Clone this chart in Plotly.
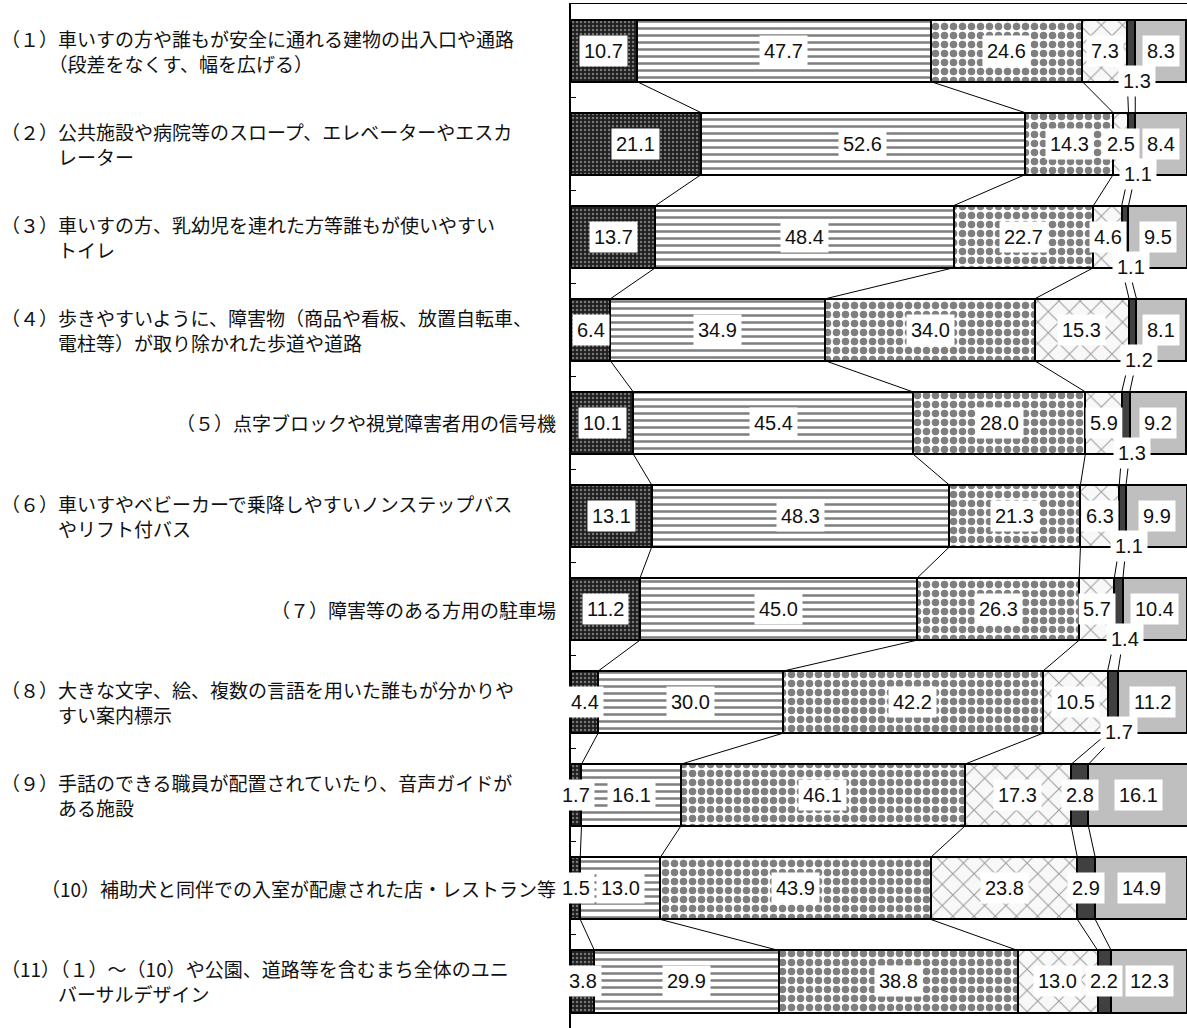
import plotly.graph_objects as go

# category labels (first line, continuation line)
categories = [
    ["（１）車いすの方や誰もが安全に通れる建物の出入口や通路", "（段差をなくす、幅を広げる）"],
    ["（２）公共施設や病院等のスロープ、エレベーターやエスカ", "レーター"],
    ["（３）車いすの方、乳幼児を連れた方等誰もが使いやすい", "トイレ"],
    ["（４）歩きやすいように、障害物（商品や看板、放置自転車、", "電柱等）が取り除かれた歩道や道路"],
    ["（５）点字ブロックや視覚障害者用の信号機"],
    ["（６）車いすやベビーカーで乗降しやすいノンステップバス", "やリフト付バス"],
    ["（７）障害等のある方用の駐車場"],
    ["（８）大きな文字、絵、複数の言語を用いた誰もが分かりや", "すい案内標示"],
    ["（９）手話のできる職員が配置されていたり、音声ガイドが", "ある施設"],
    ["（10）補助犬と同伴での入室が配慮された店・レストラン等"],
    ["（11）（１）～（10）や公園、道路等を含むまち全体のユニ", "バーサルデザイン"],
]

series_names = ["series_1", "series_2", "series_3", "series_4", "series_5", "series_6"]

s1 = [10.7, 21.1, 13.7, 6.4, 10.1, 13.1, 11.2, 4.4, 1.7, 1.5, 3.8]
s2 = [47.7, 52.6, 48.4, 34.9, 45.4, 48.3, 45.0, 30.0, 16.1, 13.0, 29.9]
s3 = [24.6, 14.3, 22.7, 34.0, 28.0, 21.3, 26.3, 42.2, 46.1, 43.9, 38.8]
s4 = [7.3, 2.5, 4.6, 15.3, 5.9, 6.3, 5.7, 10.5, 17.3, 23.8, 13.0]
s5 = [1.3, 1.1, 1.1, 1.2, 1.3, 1.1, 1.4, 1.7, 2.8, 2.9, 2.2]
s6 = [8.3, 8.4, 9.5, 8.1, 9.2, 9.9, 10.4, 11.2, 16.1, 14.9, 12.3]

series = [s1, s2, s3, s4, s5, s6]

# fill styles per series
styles = [
    dict(color="#1e1e1e", pattern=dict(shape=".", fgcolor="#d0d0d0", bgcolor="#1e1e1e", size=4, solidity=0.3)),
    dict(color="white", pattern=dict(shape="-", fgcolor="black", bgcolor="white", size=7, solidity=0.36)),
    dict(color="white", pattern=dict(shape=".", fgcolor="black", bgcolor="white", size=9, solidity=0.55)),
    dict(color="#f8f8f8", pattern=dict(shape="x", fgcolor="#444444", bgcolor="#f8f8f8", size=15, solidity=0.14)),
    dict(color="#404040", pattern=dict(shape="")),
    dict(color="#bfbfbf", pattern=dict(shape="")),
]

W, H = 1187, 1028
PLOT_L, PLOT_T = 571, 4
PLOT_W = W - PLOT_L
BAR_W = 0.667
half = BAR_W / 2

n = len(categories)
y_pos = list(range(n))

fig = go.Figure()

starts = []
acc = [0.0] * n
for name, vals, st in zip(series_names, series, styles):
    starts.append(acc[:])
    fig.add_trace(go.Bar(
        y=y_pos, x=vals, orientation="h", name=name, width=BAR_W,
        marker=dict(color=st["color"], line=dict(color="black", width=2), pattern=st["pattern"]),
        hoverinfo="skip",
    ))
    acc = [a + v for a, v in zip(acc, vals)]

# series lines between consecutive bars
lx, ly = [], []
for k in range(1, len(series)):
    ends = starts[k]
    for i in range(n - 1):
        lx += [ends[i], ends[i + 1], None]
        ly += [i + half, i + 1 - half, None]
fig.add_trace(go.Scatter(x=lx, y=ly, mode="lines", line=dict(color="black", width=1),
                         hoverinfo="skip", showlegend=False))

annotations = []
# value labels
for k, vals in enumerate(series):
    for i, v in enumerate(vals):
        xc = starts[k][i] + v / 2
        below = (k == 4 and v < 2)
        annotations.append(dict(
            x=xc, y=(i + half - 0.01) if below else i, xref="x", yref="y",
            text=f"{v:.1f}", showarrow=False, bgcolor="white", borderpad=4,
            xshift=6 if below else 0,
            font=dict(family="Liberation Sans, Arial, sans-serif", size=20, color="#111111"),
        ))

# category labels
for i, lines in enumerate(categories):
    if len(lines) > 1:
        text = lines[0] + "<br>" + "".join("\u3000\u3000\u3000" + ln for ln in lines[1:])
        annotations.append(dict(
            x=(0 - PLOT_L) / PLOT_W, y=i, xref="paper", yref="y",
            xanchor="left", yanchor="middle", align="left", borderpad=0,
            text=text, showarrow=False,
            font=dict(family="Noto Sans CJK JP", size=19, color="#111111"),
        ))
    else:
        annotations.append(dict(
            x=(557 - PLOT_L) / PLOT_W, y=i, xref="paper", yref="y",
            xanchor="right", yanchor="middle", align="right", borderpad=0,
            text=lines[0], showarrow=False,
            font=dict(family="Noto Sans CJK JP", size=19, color="#111111"),
        ))

fig.update_layout(
    width=W, height=H,
    margin=dict(l=PLOT_L, r=0, t=PLOT_T, b=0),
    barmode="stack",
    showlegend=False,
    plot_bgcolor="white", paper_bgcolor="white",
    annotations=annotations,
    xaxis=dict(range=[0, 100], side="top", showgrid=False, zeroline=False,
               showticklabels=False, ticks="", showline=True, linecolor="black", linewidth=1),
    yaxis=dict(range=[n - 0.5, -0.5], showgrid=False, zeroline=False, showticklabels=False,
               tickvals=[i - 0.5 for i in range(n + 1)], ticks="inside", ticklen=5,
               tickcolor="black", showline=True, linecolor="black", linewidth=2),
)

fig.write_html("out.html", config={"displayModeBar": False},
               post_script="document.body.style.margin = '0';")
